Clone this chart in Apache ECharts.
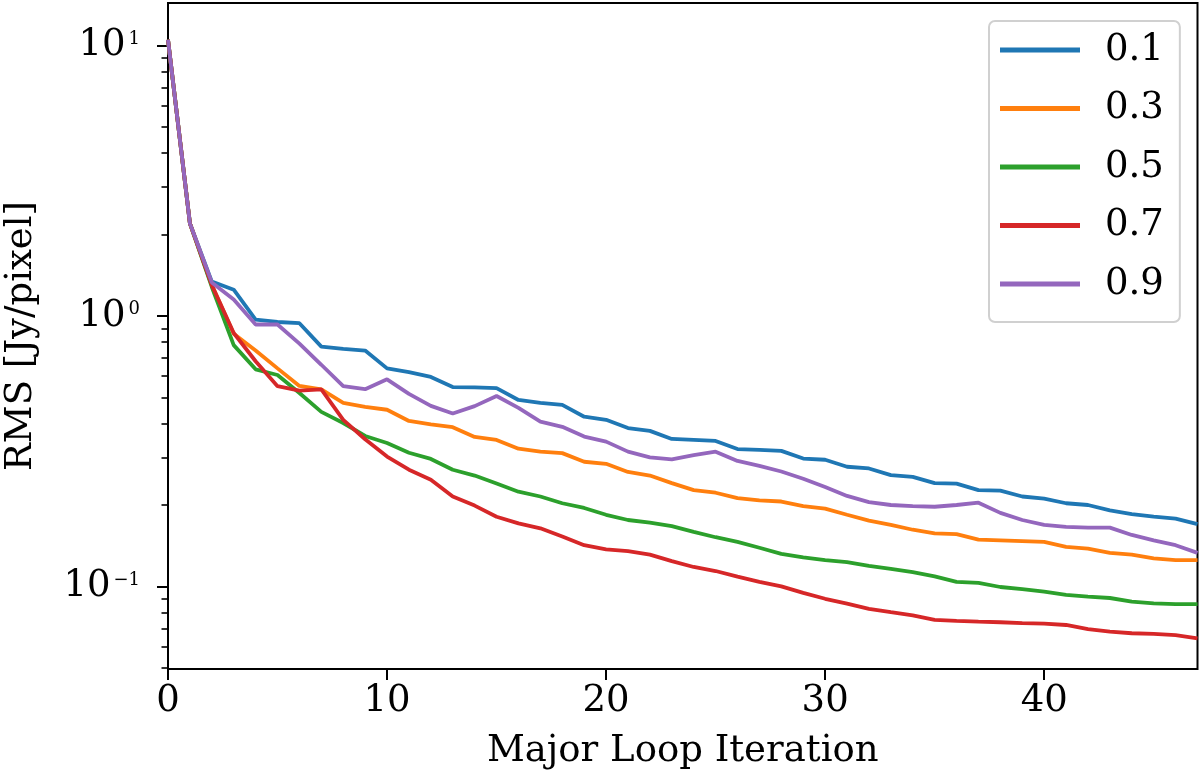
<!DOCTYPE html>
<html>
<head>
<meta charset="utf-8">
<script src="https://cdn.jsdelivr.net/npm/echarts@6/dist/echarts.min.js"></script>
<style>
html,body{margin:0;padding:0;background:#fff;}
#chart{width:1200px;height:779px;}
</style>
</head>
<body>
<div id="chart"></div>
<script>
// Iteration index (x)
const iterations = [0,1,2,3,4,5,6,7,8,9,10,11,12,13,14,15,16,17,18,19,20,21,22,23,24,25,26,27,28,29,30,31,32,33,34,35,36,37,38,39,40,41,42,43,44,45,46,47];

const seriesNames = ['0.1','0.3','0.5','0.7','0.9'];

const rms01 = [10.5,2.2,1.34,1.25,0.97,0.95,0.94,0.77,0.755,0.745,0.64,0.62,0.595,0.546,0.544,0.541,0.489,0.477,0.469,0.424,0.413,0.385,0.376,0.351,0.348,0.345,0.322,0.32,0.317,0.297,0.294,0.277,0.273,0.258,0.254,0.241,0.24,0.227,0.226,0.215,0.211,0.203,0.2,0.191,0.185,0.181,0.178,0.17];
const rms03 = [10.5,2.2,1.3,0.86,0.745,0.64,0.551,0.535,0.477,0.461,0.45,0.409,0.397,0.388,0.357,0.348,0.323,0.315,0.311,0.289,0.284,0.265,0.257,0.241,0.227,0.222,0.212,0.208,0.206,0.198,0.194,0.184,0.175,0.169,0.162,0.157,0.156,0.149,0.148,0.147,0.146,0.14,0.138,0.133,0.131,0.127,0.125,0.125];
const rms05 = [10.5,2.2,1.28,0.78,0.635,0.605,0.519,0.442,0.402,0.36,0.339,0.312,0.296,0.27,0.257,0.24,0.224,0.215,0.203,0.195,0.184,0.176,0.172,0.167,0.159,0.152,0.146,0.139,0.132,0.128,0.125,0.123,0.119,0.116,0.113,0.109,0.104,0.103,0.0995,0.0977,0.0957,0.093,0.0916,0.0906,0.0879,0.0866,0.086,0.086];
const rms07 = [10.5,2.2,1.3,0.865,0.68,0.55,0.53,0.535,0.413,0.35,0.302,0.27,0.248,0.215,0.199,0.181,0.171,0.164,0.153,0.142,0.137,0.135,0.131,0.124,0.118,0.114,0.1087,0.104,0.1,0.0946,0.09,0.0863,0.0826,0.0803,0.0782,0.0752,0.0746,0.0741,0.0737,0.0732,0.0728,0.072,0.0695,0.068,0.0671,0.0667,0.066,0.0643];
const rms09 = [10.5,2.2,1.33,1.15,0.93,0.93,0.79,0.66,0.55,0.536,0.583,0.515,0.465,0.436,0.464,0.506,0.457,0.407,0.389,0.358,0.343,0.315,0.3,0.295,0.306,0.315,0.291,0.279,0.266,0.25,0.233,0.216,0.205,0.2,0.198,0.197,0.2,0.204,0.187,0.176,0.169,0.166,0.165,0.165,0.155,0.148,0.142,0.133];

const xTicks = [0,10,20,30,40];
const yMajorTicks = [0.1,1,10];
const yMinorTicks = [0.05,0.06,0.07,0.08,0.09,0.2,0.3,0.4,0.5,0.6,0.7,0.8,0.9,2,3,4,5,6,7,8,9];

const colors = ['#1f77b4','#ff7f0e','#2ca02c','#d62728','#9467bd'];
const allData = [rms01, rms03, rms05, rms07, rms09];

const FONT = 'DejaVu Serif';
const FS = 37;

function powLabel(v) {
  const l = Math.log10(v);
  const e = Math.round(l);
  if (Math.abs(l - e) > 1e-6) return '';
  const s = e < 0 ? '\u2212' + (-e) : String(e);
  return '{b|10}{e|' + s + '}';
}

const chart = echarts.init(document.getElementById('chart'), null, {renderer: 'canvas'});

const series = allData.map((arr, i) => ({
  name: seriesNames[i],
  type: 'line',
  data: iterations.map((x, k) => [x, arr[k]]),
  showSymbol: false,
  symbol: 'none',
  lineStyle: {width: 3.8, color: colors[i]},
  itemStyle: {color: colors[i]},
  animation: false,
  z: 3
}));

const yMin = 0.0495, yMax = 14.36;

chart.setOption({
  animation: false,
  backgroundColor: '#fff',
  color: colors,
  grid: {
    left: 168, right: 2.5, top: 3, bottom: 110,
    show: true, borderColor: '#000', borderWidth: 2,
    containLabel: false,
    outerBoundsMode: 'none'
  },
  legend: {
    orient: 'vertical',
    left: 989, top: 21,
    padding: [6, 16, 15, 11],
    itemWidth: 80, itemHeight: 5,
    itemGap: 12.5,
    icon: 'rect',
    backgroundColor: '#fff',
    borderColor: '#d0d0d0', borderWidth: 2, borderRadius: 6,
    textStyle: {fontFamily: FONT, fontSize: FS, color: '#000', lineHeight: 46, padding: [0,0,0,20]},
    data: seriesNames
  },
  xAxis: {
    type: 'value', min: 0, max: 47,
    name: 'Major Loop Iteration', nameLocation: 'middle', nameGap: 64,
    nameTextStyle: {fontFamily: FONT, fontSize: FS, color: '#000'},
    axisLine: {show: false},
    splitLine: {show: false},
    axisTick: {show: true, inside: false, length: 11, lineStyle: {color: '#000', width: 2}, customValues: xTicks},
    axisLabel: {fontFamily: FONT, fontSize: FS, color: '#000', margin: 14, customValues: xTicks}
  },
  yAxis: [{
    type: 'log', logBase: 10, min: yMin, max: yMax,
    name: 'RMS [Jy/pixel]', nameLocation: 'middle', nameGap: 128,
    nameTextStyle: {fontFamily: FONT, fontSize: FS, color: '#000'},
    axisLine: {show: false},
    splitLine: {show: false},
    axisTick: {show: true, inside: false, length: 11, lineStyle: {color: '#000', width: 2}, customValues: yMajorTicks},
    axisLabel: {
      margin: 28, customValues: yMajorTicks,
      formatter: powLabel,
      rich: {
        b: {fontFamily: FONT, fontSize: FS, color: '#000'},
        e: {fontFamily: FONT, fontSize: 18, color: '#000', verticalAlign: 'top', padding: [3,0,0,3]}
      }
    }
  }, {
    type: 'log', logBase: 10, min: yMin, max: yMax,
    position: 'left',
    axisLine: {show: false},
    splitLine: {show: false},
    axisTick: {show: true, inside: false, length: 6.5, lineStyle: {color: '#000', width: 1.6}, customValues: yMinorTicks},
    axisLabel: {show: false}
  }],
  series: series
});
</script>
</body>
</html>
